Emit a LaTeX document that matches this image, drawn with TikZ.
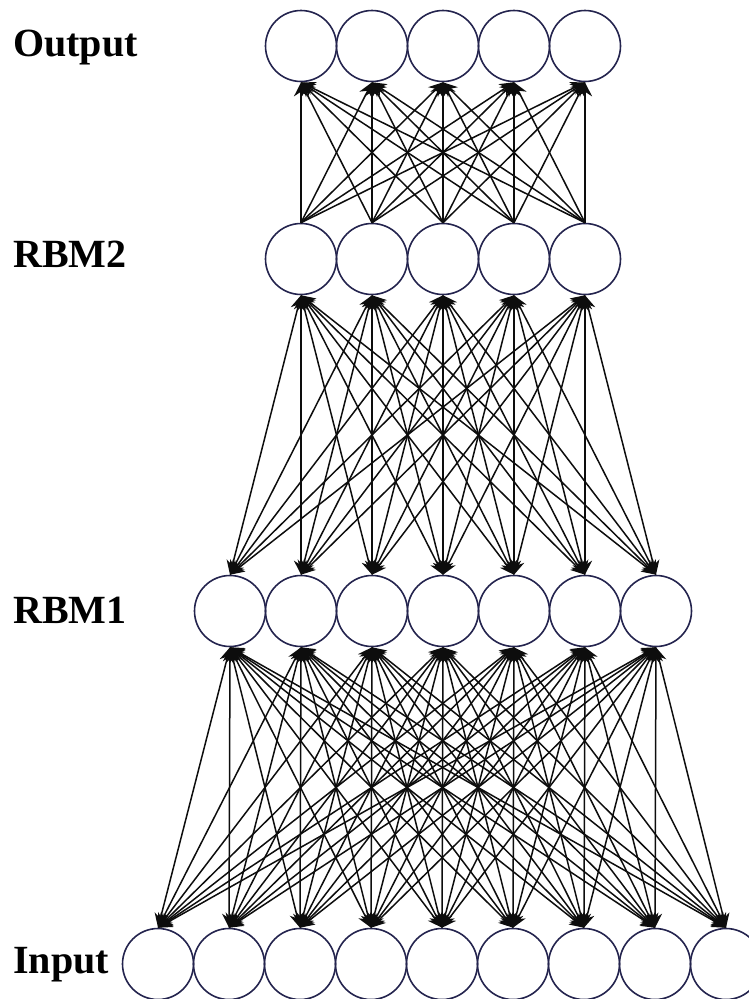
\documentclass[tikz,border=0pt]{standalone}
\usepackage{fontspec}
\setmainfont{Liberation Serif}
\usetikzlibrary{arrows.meta}
\begin{document}
\begin{tikzpicture}[x=1pt,y=-1pt,
  neuron/.style={circle,draw={rgb,255:red,36;green,36;blue,78},line width=1.6pt,minimum size=71pt,inner sep=0pt},
  edge/.style={draw=black!95,line width=1.5pt},
  tip/.tip={Stealth[length=14pt,width=14pt]},
  upedge/.style={edge,-tip},
  bothedge/.style={edge,tip-tip},
  lbl/.style={anchor=base west,font=\fontsize{40}{48}\selectfont\bfseries,inner sep=0pt}]
\useasboundingbox (0,0) rectangle (749,999);
\clip (0,0) rectangle (749,999);
% labels
\node[lbl] (lout) at (13,56) {Output};
\node[lbl] (lr2) at (13,267) {RBM2};
\node[lbl] (lr1) at (13,623) {RBM1};
\node[lbl] (lin) at (13,973) {Input};
% layers
\foreach \i in {0,...,4} \node[neuron] (o\i) at ({301+71*\i},46) {};
\foreach \i in {0,...,4} \node[neuron] (b\i) at ({301+71*\i},259) {};
\foreach \i in {0,...,6} \node[neuron] (a\i) at ({230+71*\i},611) {};
\foreach \i in {0,...,8} \node[neuron] (n\i) at ({158+71*\i},964) {};
% connections
\foreach \i in {0,...,4} \foreach \j in {0,...,4}
  \draw[upedge] (b\i.north) -- (o\j.south);
\foreach \i in {0,...,6} \foreach \j in {0,...,4}
  \draw[bothedge] (a\i.north) -- (b\j.south);
\foreach \i in {0,...,8} \foreach \j in {0,...,6}
  \draw[bothedge] (n\i.north) -- (a\j.south);
\end{tikzpicture}
\end{document}
